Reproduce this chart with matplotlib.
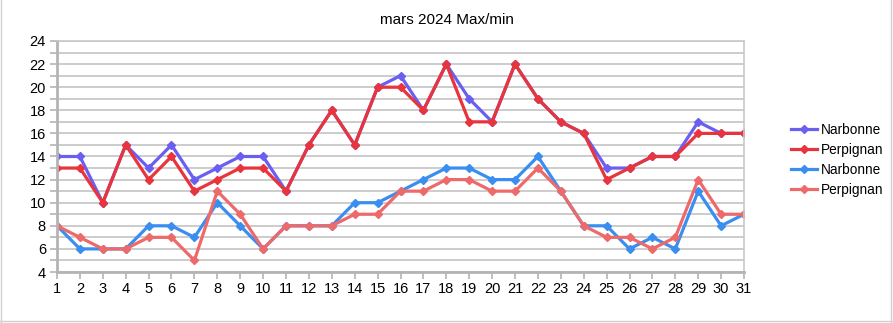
import numpy as np
import matplotlib
matplotlib.use("Agg")
from matplotlib import pyplot as plt
from matplotlib.lines import Line2D

plt.rcParams['font.family'] = ['Liberation Sans', 'DejaVu Sans']

days = list(range(1, 32))
narbonne_max = [14, 14, 10, 15, 13, 15, 12, 13, 14, 14, 11, 15, 18, 15, 20, 21,
                18, 22, 19, 17, 22, 19, 17, 16, 13, 13, 14, 14, 17, 16, 16]
perpignan_max = [13, 13, 10, 15, 12, 14, 11, 12, 13, 13, 11, 15, 18, 15, 20, 20,
                 18, 22, 17, 17, 22, 19, 17, 16, 12, 13, 14, 14, 16, 16, 16]
narbonne_min = [8, 6, 6, 6, 8, 8, 7, 10, 8, 6, 8, 8, 8, 10, 10, 11,
                12, 13, 13, 12, 12, 14, 11, 8, 8, 6, 7, 6, 11, 8, 9]
perpignan_min = [8, 7, 6, 6, 7, 7, 5, 11, 9, 6, 8, 8, 8, 9, 9, 11,
                 11, 12, 12, 11, 11, 13, 11, 8, 7, 7, 6, 7, 12, 9, 9]

series = [
    ("Narbonne", narbonne_max, "#6a5ff0"),
    ("Perpignan", perpignan_max, "#e8343c"),
    ("Narbonne", narbonne_min, "#3a8ef0"),
    ("Perpignan", perpignan_min, "#ee6a6a"),
]

fig = plt.figure(figsize=(8.93, 3.23), dpi=100)
ax = fig.add_axes([57 / 893, 1 - 272 / 323, (744 - 57) / 893, (272 - 41) / 323])

for name, vals, col in series:
    ax.plot(days, vals, color=col, lw=2.3, marker="D", ms=4, label=name,
            solid_joinstyle="round")

ax.set_xlim(1, 31)
ax.set_ylim(4, 24)
ax.set_xticks(days)
ax.set_yticks(np.arange(4, 25, 2))
ax.set_yticks(np.arange(5, 24, 2), minor=True)
ax.grid(True, which="both", axis="y", color="#c4c4c4", lw=1.2)
ax.set_axisbelow(True)
ax.tick_params(axis="both", which="both", colors="#b4b4b4", labelcolor="black",
               labelsize=10.5, width=1.2, length=5, direction="out")
ax.tick_params(axis="x", pad=2)
ax.tick_params(axis="y", pad=3)
for side in ["top", "right"]:
    ax.spines[side].set_color("#c8c8c8")
    ax.spines[side].set_linewidth(1.2)
for side in ["left", "bottom"]:
    ax.spines[side].set_color("#b4b4b4")
    ax.spines[side].set_linewidth(2)

fig.text(0.5, 1 - 20 / 323, "mars 2024 Max/min", ha="center", va="center",
         fontsize=11)

ax.legend(loc="center left", bbox_to_anchor=(791 / 893, 1 - 160 / 323),
          bbox_transform=fig.transFigure, frameon=False, fontsize=9.8,
          handlelength=1.9, handletextpad=0.3, labelspacing=0.45,
          borderaxespad=0, borderpad=0)

# outer frame of the chart
fig.add_artist(Line2D([0.001, 0.001], [0, 1], color="#d0d0d0", lw=1))
fig.add_artist(Line2D([0, 1], [2 / 323, 2 / 323], color="#d0d0d0", lw=1))
fig.add_artist(Line2D([891 / 893, 891 / 893], [0, 1], color="#d0d0d0", lw=1))

fig.savefig("out.png", dpi=100)
